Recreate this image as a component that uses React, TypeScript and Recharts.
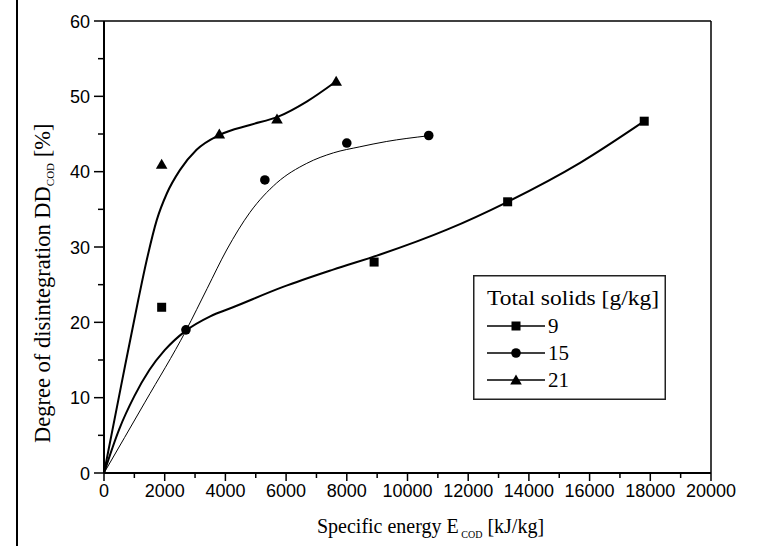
import React from 'react'
import {
  ComposedChart,
  Line,
  Scatter,
  XAxis,
  YAxis,
  ReferenceLine,
  Legend,
} from 'recharts'

const energy9 = [1900, 8900, 13300, 17800]
const dd9 = [22, 28, 36, 46.7]
const energy15 = [2700, 5300, 8000, 10700]
const dd15 = [19, 38.9, 43.8, 44.8]
const energy21 = [1900, 3800, 5700, 7650]
const dd21 = [41, 45, 47, 52]

// fitted curves
const fitEnergy9 = [0, 500, 1000, 1500, 2000, 2700, 3500, 4250, 5900, 7550, 9100, 11300, 13300, 15700, 17800]
const fitDd9 = [0, 5.8, 10.2, 13.7, 16.3, 18.9, 20.8, 22.0, 24.7, 27.0, 29.0, 32.3, 36.0, 41.2, 46.7]
const fitEnergy15 = [0, 1350, 2700, 3400, 4040, 4810, 5690, 6680, 7560, 8430, 9300, 10660]
const fitDd15 = [0, 9.4, 18.9, 24.5, 29.6, 34.6, 38.5, 41.1, 42.5, 43.3, 44.0, 44.75]
const fitEnergy21 = [0, 560, 1130, 1410, 1740, 2070, 2500, 3050, 3820, 4810, 5740, 6680, 7620]
const fitDd21 = [0, 11.5, 23.0, 28.3, 33.6, 37.1, 40.2, 42.9, 44.9, 46.2, 47.3, 49.3, 51.9]

const xTicks = [0, 1000, 2000, 3000, 4000, 5000, 6000, 7000, 8000, 9000, 10000, 11000, 12000, 13000, 14000, 15000, 16000, 17000, 18000, 19000, 20000]
const yTicks = [0, 5, 10, 15, 20, 25, 30, 35, 40, 45, 50, 55, 60]
const seriesNames = ['9', '15', '21']

const toPts = (xs: number[], ys: number[]) => xs.map((x, i) => ({ x, y: ys[i] }))

const SANS = '"Liberation Sans", Arial, sans-serif'
const SERIF = '"Liberation Serif", "Times New Roman", serif'

const Square = ({ cx, cy }: any) => <rect x={cx - 4.5} y={cy - 4.5} width={9} height={9} fill="#000" />
const Dot = ({ cx, cy }: any) => <circle cx={cx} cy={cy} r={4.8} fill="#000" />
const Tri = ({ cx, cy }: any) => (
  <polygon points={`${cx},${cy - 5.5} ${cx + 5.8},${cy + 4.5} ${cx - 5.8},${cy + 4.5}`} fill="#000" />
)

const XTick = ({ x, y, payload }: any) => {
  const major = payload.value % 2000 === 0
  return (
    <g>
      <line x1={x} x2={x} y1={y} y2={y + (major ? 8 : 5)} stroke="#000" strokeWidth={1.5} />
      {major && (
        <text x={x} y={y + 24} textAnchor="middle" fontFamily={SANS} fontSize={18} fill="#000">
          {payload.value}
        </text>
      )}
    </g>
  )
}

const YTick = ({ x, y, payload }: any) => {
  const major = payload.value % 10 === 0
  return (
    <g>
      <line x1={x} x2={x - (major ? 10 : 6)} y1={y} y2={y} stroke="#000" strokeWidth={1.5} />
      {major && (
        <text x={x - 14} y={y + 6.5} textAnchor="end" fontFamily={SANS} fontSize={18} fill="#000">
          {payload.value}
        </text>
      )}
    </g>
  )
}

const XTitle = ({ viewBox }: any) => (
  <text
    x={viewBox.x + viewBox.width / 2 + 23}
    y={viewBox.y + 60}
    textAnchor="middle"
    fontFamily={SERIF}
    fontSize={20}
    fill="#000"
  >
    Specific energy E
    <tspan fontSize={10} dy={5}> COD</tspan>
    <tspan dy={-5}> [kJ/kg]</tspan>
  </text>
)

// starts at the bottom of the plot and reads upwards
const YTitle = () => (
  <text
    x={0}
    y={0}
    transform="translate(50, 443) rotate(-90)"
    fontFamily={SERIF}
    fontSize={22.5}
    fill="#000"
  >
    Degree of disintegration DD
    <tspan fontSize={11} dy={4}>COD</tspan>
    <tspan dy={-4}> [%]</tspan>
  </text>
)

const LegendBox = () => {
  const markers = [Square, Dot, Tri]
  return (
    <svg width={193} height={125} style={{ display: 'block' }}>
      <rect x={0.75} y={0.75} width={191.5} height={123.5} fill="#fff" stroke="#222" strokeWidth={1.5} />
      <text x={14} y={30} fontFamily={SERIF} fontSize={21} fill="#000" textLength={172} lengthAdjust="spacingAndGlyphs">
        Total solids [g/kg]
      </text>
      {seriesNames.map((name, i) => {
        const cy = 51 + i * 27
        const M = markers[i]
        return (
          <g key={name}>
            <line x1={14} x2={72} y1={cy} y2={cy} stroke="#000" strokeWidth={1.3} />
            <M cx={43} cy={cy} />
            <text x={75} y={cy + 7} fontFamily={SERIF} fontSize={21} fill="#000">
              {name}
            </text>
          </g>
        )
      })}
    </svg>
  )
}

export default function App() {
  return (
    <div style={{ position: 'absolute', left: 0, top: 0, width: 761, height: 546, background: '#fff' }}>
      {/* scan border on the left */}
      <div style={{ position: 'absolute', left: 16, top: 0, width: 1.5, height: 546, background: '#000' }} />
      <ComposedChart
        width={761}
        height={546}
        margin={{ top: 21, right: 50, bottom: 0, left: 0 }}
      >
        <XAxis
          type="number"
          dataKey="x"
          domain={[0, 20000]}
          ticks={xTicks}
          interval={0}
          height={73}
          tickSize={0}
          tickMargin={0}
          tickLine={false}
          axisLine={{ stroke: '#000', strokeWidth: 2 }}
          tick={<XTick />}
          label={<XTitle />}
          allowDataOverflow
        />
        <YAxis
          type="number"
          dataKey="y"
          domain={[0, 60]}
          ticks={yTicks}
          interval={0}
          width={104}
          tickSize={0}
          tickMargin={0}
          tickLine={false}
          axisLine={{ stroke: '#000', strokeWidth: 2 }}
          tick={<YTick />}
          label={<YTitle />}
          allowDataOverflow
        />
        <ReferenceLine y={60} stroke="#000" strokeWidth={1.5} />
        <ReferenceLine x={20000} stroke="#000" strokeWidth={1.5} />

        <Line data={toPts(fitEnergy9, fitDd9)} dataKey="y" type="monotone" stroke="#000" strokeWidth={2} dot={false} isAnimationActive={false} legendType="none" />
        <Line data={toPts(fitEnergy15, fitDd15)} dataKey="y" type="monotone" stroke="#000" strokeWidth={1} dot={false} isAnimationActive={false} legendType="none" />
        <Line data={toPts(fitEnergy21, fitDd21)} dataKey="y" type="monotone" stroke="#000" strokeWidth={2} dot={false} isAnimationActive={false} legendType="none" />

        <Scatter name="9" data={toPts(energy9, dd9)} dataKey="y" shape={<Square />} isAnimationActive={false} />
        <Scatter name="15" data={toPts(energy15, dd15)} dataKey="y" shape={<Dot />} isAnimationActive={false} />
        <Scatter name="21" data={toPts(energy21, dd21)} dataKey="y" shape={<Tri />} isAnimationActive={false} />

        <Legend
          layout="horizontal"
          verticalAlign="middle"
          align="center"
          content={<LegendBox />}
          wrapperStyle={{ position: 'absolute', left: 473, top: 275, width: 193, height: 125 }}
        />
      </ComposedChart>
    </div>
  )
}
